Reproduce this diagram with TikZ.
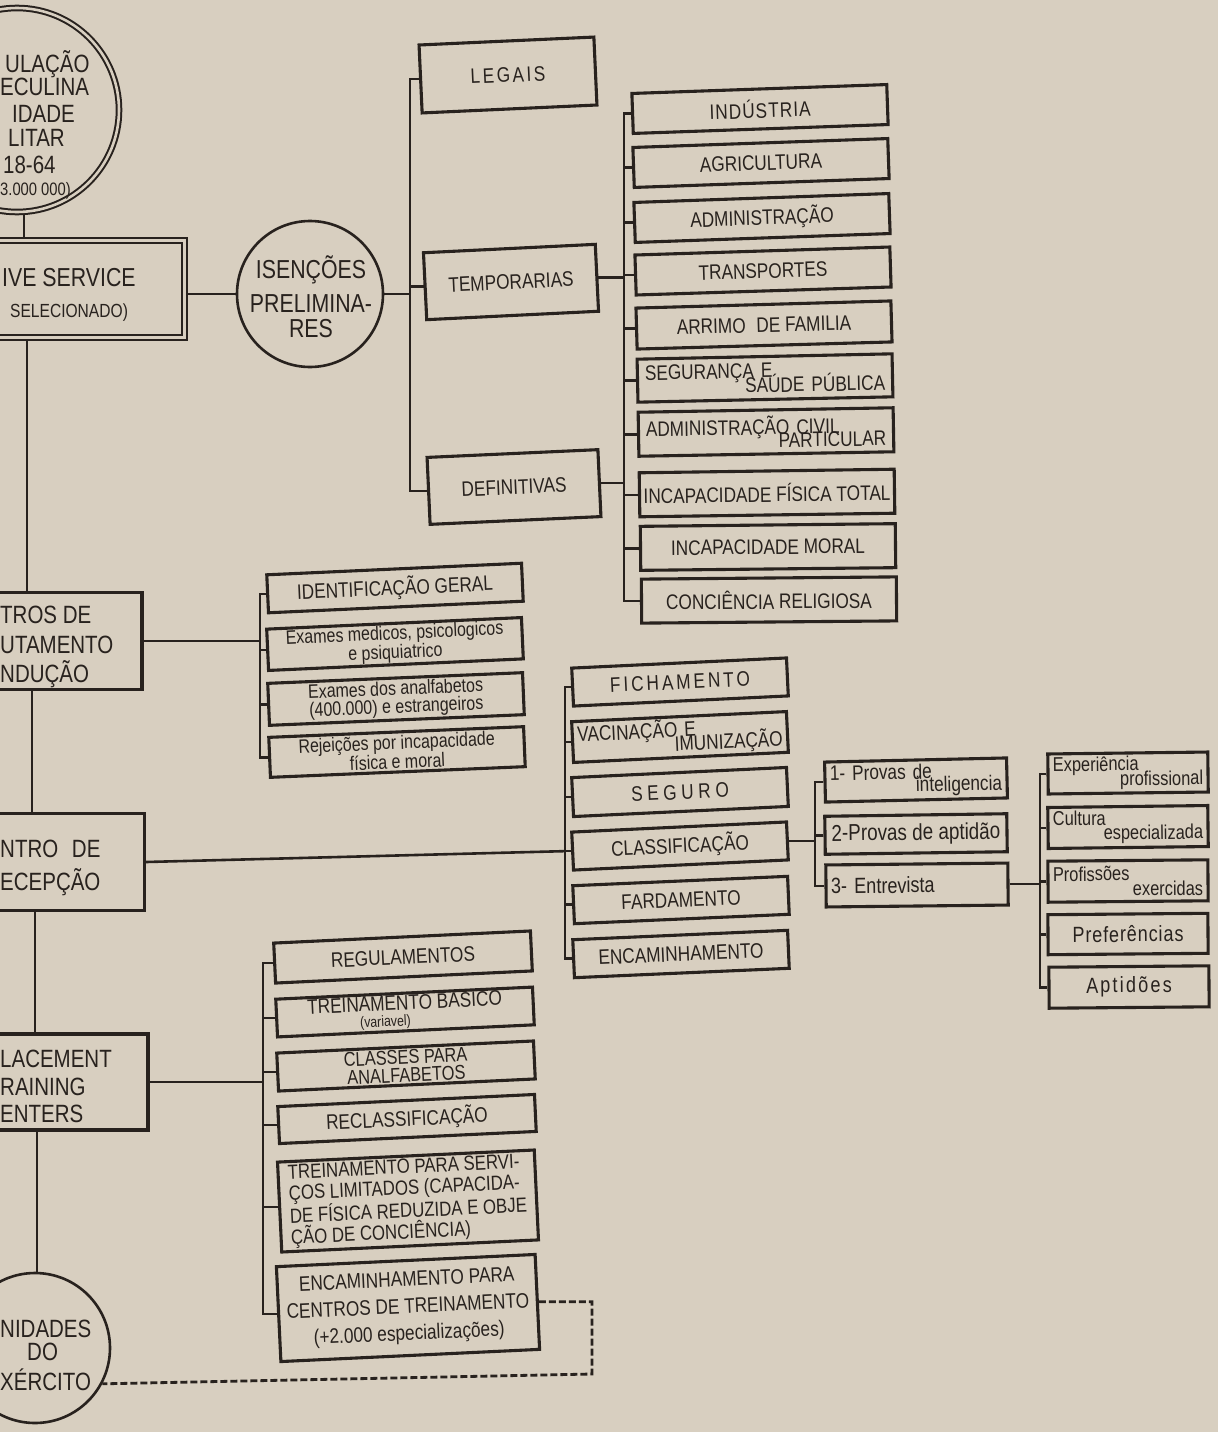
\documentclass[tikz,border=0pt]{standalone}
\usepackage{fontspec}
\newfontfamily\lab[FakeStretch=0.82]{Liberation Sans}
\definecolor{paper}{RGB}{216,207,192}
\definecolor{ink}{RGB}{40,34,30}
\newcommand\fntA{\lab\fontsize{21}{22}\selectfont}
\newcommand\fntS{\lab\fontsize{19.5}{18}\selectfont}
\newcommand\fntL{\lab\fontsize{25}{28}\selectfont}
\newcommand\trk[1]{\addfontfeature{LetterSpace=#1}}
\newcommand\twolev[3]{#1\\[#3]\hspace*{\fill}#2}
\pgfdeclarelayer{paperlayer}
\pgfdeclarelayer{connlayer}
\pgfsetlayers{paperlayer,connlayer,main}
\begin{document}
\begin{tikzpicture}[x=1pt,y=-1pt,
  box/.style={draw=ink, line width=3.1pt, fill=paper, inner sep=2pt, align=center, font=\fntA, text=ink},
  sz/.style 2 args={minimum width=#1pt, minimum height=#2pt},
  conn/.style={draw=ink, line width=2.6pt},
  dconn/.style={draw=ink, line width=2.8pt, dash pattern=on 7pt off 3pt},
  lt/.style={anchor=base west, inner sep=0pt, font=\fntL, text=ink}]
\useasboundingbox (0,0) rectangle (1218,1432);
\begin{pgfonlayer}{paperlayer}
\fill[paper] (0,0) rectangle (1218,1432);
\end{pgfonlayer}

% ---------- left column ----------
\node[circle, draw=ink, double=paper, double distance=2.6pt, line width=2pt, fill=paper, minimum size=204pt, inner sep=0pt] (pop) at (17,110) {};
\node[lt] (pt1) at (5,72) {ULAÇÃO};
\node[lt] (pt2) at (0,95) {ECULINA};
\node[lt] (pt3) at (12,122) {IDADE};
\node[lt] (pt4) at (8,146) {LITAR};
\node[lt] (pt5) at (3,173) {18-64};
\node[lt, font=\lab\fontsize{18}{20}\selectfont] (pt6) at (0,195) {3.000 000)};

\node[draw=ink, double=paper, double distance=3pt, line width=2.2pt, fill=paper, minimum width=245pt, minimum height=97pt, inner sep=0pt] (sel) at (62,289) {};
\node[lt, font=\lab\fontsize{26}{28}\selectfont] (st1) at (2,286) {IVE SERVICE};
\node[lt, font=\lab\fontsize{19}{20}\selectfont] (st2) at (10,317) {SELECIONADO)};

\node[circle, draw=ink, line width=2.6pt, fill=paper, minimum size=146pt, inner sep=0pt] (isen) at (310,294) {};
\node[align=center, inner sep=0pt, text=ink, font=\lab\fontsize{26}{26}\selectfont] (isenT) at (311,297) {ISENÇÕES\\[8pt]PRELIMINA-\\[-1pt]RES};

\node[box, sz={202}{97}] (rec) at (41,641) {};
\node[lt] (rt1) at (0,623) {TROS DE};
\node[lt] (rt2) at (0,653) {UTAMENTO};
\node[lt] (rt3) at (0,682) {NDUÇÃO};

\node[box, sz={205}{97}] (recep) at (42,862) {};
\node[lt] (ct1) at (0,857) {NTRO\hspace{8pt} DE};
\node[lt] (ct2) at (0,890) {ECEPÇÃO};

\node[box, sz={208}{96}] (repl) at (44,1082) {};
\node[lt] (lt1) at (0,1067) {LACEMENT};
\node[lt] (lt2) at (0,1095) {RAINING};
\node[lt] (lt3) at (0,1122) {ENTERS};

\node[circle, draw=ink, line width=2.6pt, fill=paper, minimum size=150pt, inner sep=0pt] (uni) at (35,1348) {};
\node[lt] (ut1) at (0,1337) {NIDADES};
\node[lt] (ut2) at (27,1360) {DO};
\node[lt] (ut3) at (0,1390) {XÉRCITO};

% ---------- isenções ----------
\node[box, sz={175}{68}, rotate=2.6] (leg) at (508,75) {\trk{12}LEGAIS};
\node[box, sz={172}{67}, rotate=2.8] (tem) at (511,282) {TEMPORARIAS};
\node[box, sz={171}{67}, rotate=2.6] (def) at (514,487) {DEFINITIVAS};

\node[box, sz={255}{40}, rotate=2] (ind) at (760,109) {\trk{5}INDÚSTRIA};
\node[box, sz={255}{40}, rotate=2] (agr) at (761,163) {AGRICULTURA};
\node[box, sz={255}{40}, rotate=2] (adm) at (762,218) {ADMINISTRAÇÃO};
\node[box, sz={255}{40}, rotate=1.8] (tra) at (763,271) {TRANSPORTES};
\node[box, sz={255}{41}, rotate=1.6] (arr) at (764,325) {ARRIMO\hspace{6pt} DE FAMILIA};
\node[box, sz={255}{43}, rotate=1.2, text width=240pt, align=left] (seg) at (765,378) {\twolev{SEGURANÇA E}{SAÚDE PÚBLICA}{-9pt}};
\node[box, sz={255}{44}, rotate=1, text width=240pt, align=left] (adc) at (766,432) {\twolev{ADMINISTRAÇÃO CIVIL}{PARTICULAR}{-9pt}};
\node[box, sz={255}{44}, rotate=0.8] (ift) at (767,493) {INCAPACIDADE FÍSICA TOTAL};
\node[box, sz={255}{44}, rotate=0.6] (imo) at (768,547) {INCAPACIDADE MORAL};
\node[box, sz={255}{44}, rotate=0.5] (crl) at (769,600) {CONCIÊNCIA RELIGIOSA};

% ---------- recrutamento ----------
\node[box, sz={255}{38}, rotate=2.6] (id1) at (395,588) {IDENTIFICAÇÃO GERAL};
\node[box, sz={255}{38}, rotate=2.6, font=\fntS] (id2) at (395,644) {Exames medicos, psicologicos\\e psiquiatrico};
\node[box, sz={255}{42}, rotate=2.4, font=\fntS] (id3) at (396,699) {Exames dos analfabetos\\(400.000) e estrangeiros};
\node[box, sz={255}{40}, rotate=2.4, font=\fntS] (id4) at (397,752) {Rejeições por incapacidade\\física e moral};

% ---------- recepção ----------
\node[box, sz={215}{38}, rotate=2.7] (fic) at (680,682) {\trk{14}FICHAMENTO};
\node[box, sz={215}{39}, rotate=2.7, text width=205pt, align=left] (vac) at (680,737) {\twolev{VACINAÇÃO E}{IMUNIZAÇÃO}{-10pt}};
\node[box, sz={215}{39}, rotate=2.7] (segu) at (680,792) {\trk{22}SEGURO};
\node[box, sz={215}{38}, rotate=2.7] (cla) at (680,846) {CLASSIFICAÇÃO};
\node[box, sz={215}{38}, rotate=2.5] (far) at (681,900) {FARDAMENTO};
\node[box, sz={215}{38}, rotate=2.5] (enc) at (681,954) {ENCAMINHAMENTO};

\node[box, sz={182}{40}, rotate=1.3, text width=172pt, align=left, font=\lab\fontsize{21}{20}\selectfont] (p1) at (916,780) {\twolev{1- Provas de}{inteligencia}{-7pt}};
\node[box, sz={182}{38}, rotate=0.8, font=\lab\fontsize{23}{20}\selectfont] (p2) at (916,834) {2-Provas de aptidão};
\node[box, sz={182}{42}, rotate=0.6, text width=172pt, align=left, font=\lab\fontsize{22}{20}\selectfont] (p3) at (917,885) {3- Entrevista};

\node[box, sz={160}{40}, rotate=0.7, text width=150pt, align=left, font=\lab\fontsize{20}{20}\selectfont] (e1) at (1128,773) {\twolev{Experiência}{profissional}{-5pt}};
\node[box, sz={160}{41}, rotate=0.7, text width=150pt, align=left, font=\lab\fontsize{20}{20}\selectfont] (e2) at (1128,827) {\twolev{Cultura}{especializada}{-5pt}};
\node[box, sz={160}{41}, rotate=0.5, text width=150pt, align=left, font=\lab\fontsize{20}{20}\selectfont] (e3) at (1128,881) {\twolev{Profissões}{exercidas}{-5pt}};
\node[box, sz={160}{40}, rotate=0.5, font=\lab\fontsize{22}{20}\selectfont] (e4) at (1128,934) {\trk{4}Preferências};
\node[box, sz={160}{41}, rotate=0.5, font=\lab\fontsize{22}{20}\selectfont] (e5) at (1129,987) {\trk{10}Aptidões};

% ---------- replacement ----------
\node[box, sz={257}{40}, rotate=2.7] (rg1) at (403,957) {REGULAMENTOS};
\node[box, sz={257}{37}, rotate=2.7] (rg2) at (405,1012) {TREINAMENTO BASICO\\[-6pt]\hspace*{-40pt}{\fontsize{15}{15}\selectfont (variavel)}};
\node[box, sz={257}{38}, rotate=2.7, font=\lab\fontsize{20}{18}\selectfont] (rg3) at (406,1066) {CLASSES PARA\\ANALFABETOS};
\node[box, sz={257}{37}, rotate=2.7] (rg4) at (407,1119) {RECLASSIFICAÇÃO};
\node[box, sz={257}{90}, rotate=2.7, align=left, font=\lab\fontsize{20.5}{21}\selectfont] (rg5) at (408,1201) {TREINAMENTO PARA SERVI-\\ÇOS LIMITADOS (CAPACIDA-\\DE FÍSICA REDUZIDA E OBJE\\ÇÃO DE CONCIÊNCIA)};
\node[box, sz={259}{95}, rotate=2.7, font=\lab\fontsize{21}{27}\selectfont] (rg6) at (408,1308) {ENCAMINHAMENTO PARA\\CENTROS DE TREINAMENTO\\(+2.000 especializações)};

% ---------- connectors ----------
\begin{pgfonlayer}{connlayer}
\coordinate (s1) at (24,0);
\coordinate (s2) at (27,0);
\coordinate (s3) at (32,0);
\coordinate (s4) at (35,0);
\coordinate (s5) at (37,0);
\draw[conn] (s1 |- pop.south) -- (s1 |- sel.north);
\draw[conn] (s2 |- sel.south) -- (s2 |- rec.north);
\draw[conn] (s3 |- rec.south) -- (s3 |- recep.north);
\draw[conn] (s4 |- recep.south) -- (s4 |- repl.north);
\draw[conn] (s5 |- repl.south) -- (s5 |- uni.north);

\draw[conn] (sel.east |- isen.west) -- (isen.west);
\coordinate (bI) at (410,0);
\draw[conn] (isen.east) -- (bI |- isen.east);
\draw[conn] (leg.west) -- (bI |- leg.west) -- (bI |- def.west) -- (def.west);
\draw[conn] (bI |- tem.west) -- (tem.west);

\coordinate (bT) at (624,0);
\draw[conn] (tem.east) -- (bT |- tem.east);
\draw[conn] (def.east) -- (bT |- def.east);
\draw[conn] (ind.west) -- (bT |- ind.west) -- (bT |- crl.west) -- (crl.west);
\foreach \n in {agr,adm,tra,arr,seg,adc,ift,imo} \draw[conn] (bT |- \n.west) -- (\n.west);

\coordinate (bR) at (260,0);
\draw[conn] (rec.east) -- (bR |- rec.east);
\draw[conn] (id1.west) -- (bR |- id1.west) -- (bR |- id4.west) -- (id4.west);
\foreach \n in {id2,id3} \draw[conn] (bR |- \n.west) -- (\n.west);

\coordinate (bC) at (565,0);
\draw[conn] (recep.east) -- (bC |- cla.west);
\draw[conn] (fic.west) -- (bC |- fic.west) -- (bC |- enc.west) -- (enc.west);
\foreach \n in {vac,segu,cla,far} \draw[conn] (bC |- \n.west) -- (\n.west);

\coordinate (bP) at (815,0);
\draw[conn] (cla.east) -- (bP |- cla.east);
\draw[conn] (p1.west) -- (bP |- p1.west) -- (bP |- p3.west) -- (p3.west);
\draw[conn] (bP |- p2.west) -- (p2.west);

\coordinate (bE) at (1040,0);
\draw[conn] (p3.east) -- (bE |- p3.east);
\draw[conn] (e1.west) -- (bE |- e1.west) -- (bE |- e5.west) -- (e5.west);
\foreach \n in {e2,e3,e4} \draw[conn] (bE |- \n.west) -- (\n.west);

\coordinate (bG) at (263,0);
\draw[conn] (repl.east) -- (bG |- repl.east);
\draw[conn] (rg1.west) -- (bG |- rg1.west) -- (bG |- rg6.west) -- (rg6.west);
\foreach \n in {rg2,rg3,rg4,rg5} \draw[conn] (bG |- \n.west) -- (\n.west);

\coordinate (dA) at (592,0);
\coordinate (dB) at (592,1374);
\draw[dconn] (rg6.east) -- (dA |- rg6.east) -- (dB) -- (uni.-28);
\end{pgfonlayer}
\end{tikzpicture}
\end{document}
